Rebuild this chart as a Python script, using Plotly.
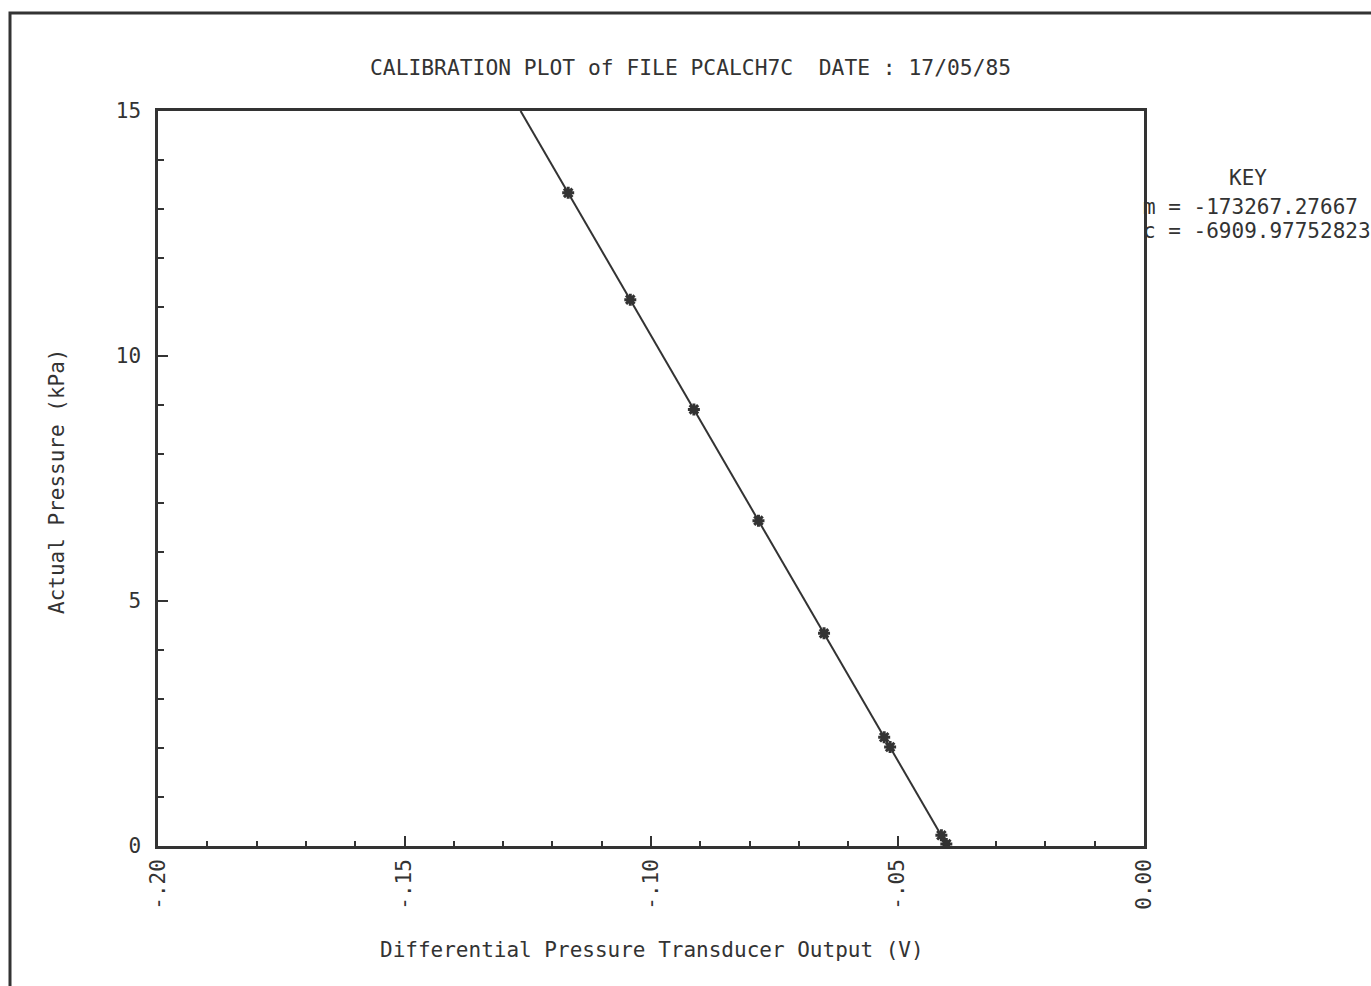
import plotly.graph_objects as go

# Calibration readings: transducer output (V) and applied pressure (kPa)
output_volts = [-0.1168, -0.1042, -0.0913, -0.0782, -0.0649, -0.0527, -0.0515, -0.0411, -0.0401]
pressure_kpa = [13.33, 11.15, 8.91, 6.64, 4.34, 2.22, 2.02, 0.22, 0.04]

# Least-squares fit printed in the key (Pa per V, Pa)
fit_m = -173267.27667
fit_c = -6909.97752823

x_tick_vals = [-0.20, -0.15, -0.10, -0.05, 0.00]
x_tick_text = ["-.20", "-.15", "-.10", "-.05", "0.00"]
y_tick_vals = [0, 5, 10, 15]
y_tick_text = ["0", "5", "10", "15"]

title_text = "CALIBRATION PLOT of FILE PCALCH7C  DATE : 17/05/85"
x_title = "Differential Pressure Transducer Output (V)"
y_title = "Actual Pressure (kPa)"
key_lines = ["m = -173267.27667", "c = -6909.97752823"]

INK = "#333333"
FONT = "DejaVu Sans Mono"
W, H = 1371, 986
ML, MR, MT, MB = 158, 227, 111, 140
PW, PH = W - ML - MR, H - MT - MB


def px(x):
    return (x - ML) / PW


def py(y):
    return (H - MB - y) / PH


# fitted line across the full pressure range, converted to kPa
y_ends = [0.0, 15.0]
x_ends = [(p * 1000.0 - fit_c) / fit_m for p in y_ends]

fig = go.Figure()
fig.add_trace(go.Scatter(
    x=x_ends, y=y_ends, mode="lines",
    line=dict(color=INK, width=2), hoverinfo="skip", showlegend=False,
))
fig.add_trace(go.Scatter(
    x=output_volts, y=pressure_kpa, mode="markers",
    marker=dict(symbol="asterisk-open", size=10, line=dict(color=INK, width=3), color=INK),
    showlegend=False,
))

axis_common = dict(
    showline=True, linecolor=INK, linewidth=2.5, mirror=True,
    showgrid=False, zeroline=False, ticks="inside", tickcolor=INK,
    tickwidth=2, ticklen=10,
    tickfont=dict(family=FONT, size=21, color=INK),
)

fig.update_xaxes(
    range=[-0.2, 0.0], tickmode="array", tickvals=x_tick_vals, ticktext=x_tick_text,
    tickangle=-90, ticklabelstandoff=2,
    minor=dict(dtick=0.01, ticks="inside", ticklen=5, tickwidth=2, tickcolor=INK),
    **axis_common,
)
fig.update_yaxes(
    range=[0, 15], tickmode="array", tickvals=y_tick_vals, ticktext=y_tick_text,
    ticklabelstandoff=10,
    minor=dict(dtick=1, ticks="inside", ticklen=6, tickwidth=2, tickcolor=INK),
    **axis_common,
)

annotations = [
    dict(text=title_text, x=px(690), y=py(67), font=dict(size=21.3)),
    dict(text=x_title, x=px(652), y=py(950), font=dict(size=21)),
    dict(text=y_title, x=px(57), y=py(481), textangle=-90, font=dict(size=21)),
    dict(text="KEY", x=px(1248), y=py(178), font=dict(size=21)),
    dict(text=key_lines[0], x=px(1141), y=py(207), xanchor="left", font=dict(size=21)),
    dict(text=key_lines[1], x=px(1141), y=py(231), xanchor="left", font=dict(size=21)),
]
for a in annotations:
    a.setdefault("xanchor", "center")
    a.update(xref="paper", yref="paper", yanchor="middle", showarrow=False)
    a["font"].update(family=FONT, color=INK)

# page frame drawn around the sheet
frame_path = "M {:.4f},{:.4f} L {:.4f},{:.4f} L {:.4f},{:.4f}".format(
    px(10), py(H + 10), px(10), py(13), px(W + 10), py(13)
)

fig.update_layout(
    width=W, height=H,
    margin=dict(l=ML, r=MR, t=MT, b=MB),
    paper_bgcolor="white", plot_bgcolor="white",
    annotations=annotations,
    shapes=[dict(type="path", path=frame_path, xref="paper", yref="paper",
                 line=dict(color=INK, width=3))],
)

fig.write_html("out.html")
